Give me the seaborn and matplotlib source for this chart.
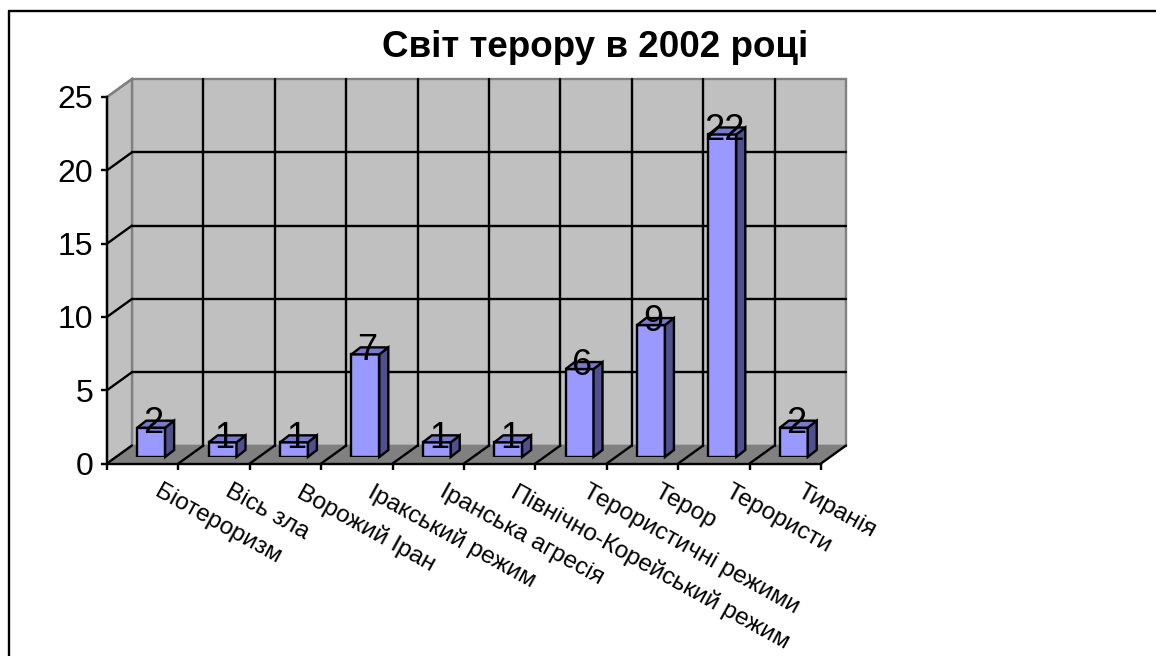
import matplotlib
matplotlib.use("Agg")
import matplotlib.pyplot as plt
from matplotlib.lines import Line2D
from matplotlib.patches import Polygon
from matplotlib.transforms import ScaledTranslation
import seaborn as sns

categories = ["Біотероризм", "Вісь зла", "Ворожий Іран", "Іракський режим", "Іранська агресія",
              "Північно-Корейський режим", "Терористичні режими", "Терор", "Терористи", "Тиранія"]
values = [2, 1, 1, 7, 1, 1, 6, 9, 22, 2]
y_ticks = [0, 5, 10, 15, 20, 25]

W, H = 1156, 656
FRONT = "#9999FF"
SIDE = "#50508F"
TOP = "#7A7ACC"
WALL = "#C0C0C0"
FLOOR = "#808080"
LW = 1.7

sns.set_style("white")
plt.rcParams["font.family"] = ["Liberation Sans", "DejaVu Sans"]

fig = plt.figure(figsize=(W / 100, H / 100), dpi=100, facecolor="white")


def px_axes(left, top, right, bottom):
    return fig.add_axes([left / W, 1 - bottom / H, (right - left) / W, (bottom - top) / H])


# outer chart frame, cut off by the image on the right and bottom
fig.add_artist(Line2D([9 / W, 9 / W], [0, 1 - 11 / H], color="black", lw=LW))
fig.add_artist(Line2D([9 / W, 1], [1 - 11 / H, 1 - 11 / H], color="black", lw=LW))

# front plane of the chart box
ax = px_axes(107, 97, 821, 463.5)
ax.set_xlim(-0.5, 9.5)
ax.set_ylim(0, 25)
x0, x1 = -0.5, 9.5
unit_x = 71.4
unit_y = 366.5 / 25
dx = 25 / unit_x
dy = 18 / unit_y

# walls and floor
ax.add_patch(Polygon([(x0 + dx, dy), (x1 + dx, dy), (x1 + dx, 25 + dy), (x0 + dx, 25 + dy)],
                     fc=WALL, ec=FLOOR, lw=LW, clip_on=False, zorder=1))
ax.add_patch(Polygon([(x0, 0), (x0 + dx, dy), (x0 + dx, 25 + dy), (x0, 25)],
                     fc=WALL, ec=FLOOR, lw=LW, clip_on=False, zorder=1))
ax.add_patch(Polygon([(x0, 0), (x1, 0), (x1 + dx, dy), (x0 + dx, dy)],
                     fc=FLOOR, ec=FLOOR, lw=1, clip_on=False, zorder=1))

# grid on back wall, left wall and floor
for t in y_ticks[1:-1]:
    ax.plot([x0 + dx, x1 + dx], [t + dy, t + dy], color="black", lw=LW, clip_on=False, zorder=2)
for t in y_ticks[:-1]:
    ax.plot([x0, x0 + dx], [t, t + dy], color="black", lw=LW, clip_on=False, zorder=2)
ax.plot([x0, x0 + dx], [25, 25 + dy], color=FLOOR, lw=LW, clip_on=False, zorder=2)
for k in range(1, 11):
    b = x0 + k
    if k < 10:
        ax.plot([b + dx, b + dx], [dy, 25 + dy], color="black", lw=LW, clip_on=False, zorder=2)
    ax.plot([b, b + dx], [0, dy], color="black", lw=LW, clip_on=False, zorder=2)

ax.patch.set_visible(False)
for name in ["top", "right"]:
    ax.spines[name].set_visible(False)
for name in ["left", "bottom"]:
    ax.spines[name].set_linewidth(LW)
    ax.spines[name].set_color("black")
ax.set_xticks([x0 + k for k in range(11)])
ax.set_xticklabels([])
ax.set_yticks(y_ticks)
ax.tick_params(axis="both", length=4, width=LW, color="black", left=True, bottom=True)
ax.tick_params(axis="y", labelsize=23, pad=6, labelcolor="black")

# bars sit a little behind the front plane, so they get their own shifted axes
bar_dx = 9 / unit_x
bar_dy = 7 / unit_y
bar_ax = px_axes(107 + 8.5, 97 - 6.5, 821 + 8.5, 463.5 - 6.5)
sns.barplot(x=categories, y=values, color=FRONT, saturation=1, width=0.39,
            edgecolor="black", linewidth=LW, ax=bar_ax, zorder=4)
bar_ax.set_xlim(-0.5, 9.5)
bar_ax.set_ylim(0, 25)
bar_ax.patch.set_visible(False)
bar_ax.set_yticks([])
sns.despine(ax=bar_ax, left=True, bottom=True)
bar_ax.tick_params(axis="x", length=0, pad=17, bottom=False)
plt.setp(bar_ax.get_xticklabels(), rotation=-29, ha="left", va="top",
         rotation_mode="anchor", fontsize=17.6, color="black")
for label in bar_ax.get_xticklabels():
    label.set_transform(label.get_transform() + ScaledTranslation(0.1, 0, fig.dpi_scale_trans))

for bar, v in zip(bar_ax.patches, values):
    l = bar.get_x()
    r = l + bar.get_width()
    bar_ax.add_patch(Polygon([(r, 0), (r + bar_dx, bar_dy), (r + bar_dx, v + bar_dy), (r, v)],
                             fc=SIDE, ec="black", lw=LW, clip_on=False, zorder=4))
    bar_ax.add_patch(Polygon([(l, v), (r, v), (r + bar_dx, v + bar_dy), (l + bar_dx, v + bar_dy)],
                             fc=TOP, ec="black", lw=LW, clip_on=False, zorder=4))
    bar_ax.annotate(str(v), (l + bar.get_width() / 2, v), xytext=(1.5, -4), textcoords="offset points",
                    ha="center", va="baseline", fontsize=26, color="black",
                    annotation_clip=False, zorder=6)

fig.text(595 / W, 1 - 57 / H, "Світ терору в 2002 році", ha="center", va="baseline",
         fontsize=26.5, fontweight="bold", color="black")

fig.savefig("out.png", dpi=100, facecolor="white")
